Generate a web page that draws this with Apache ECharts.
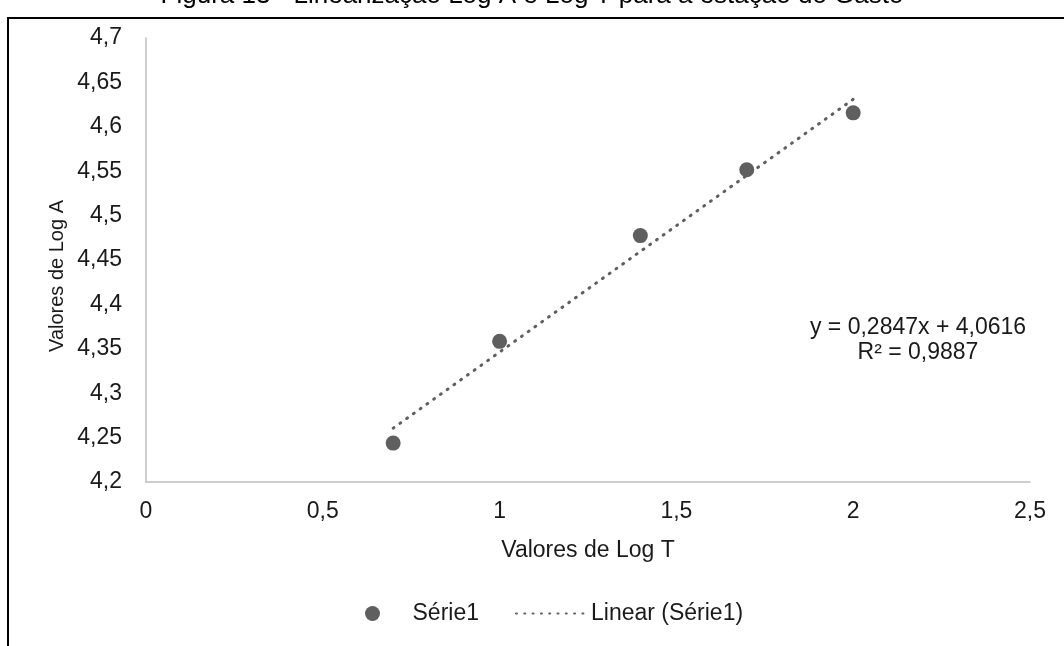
<!DOCTYPE html>
<html>
<head>
<meta charset="utf-8">
<script src="https://cdn.jsdelivr.net/npm/echarts@6/dist/echarts.min.js"></script>
<style>
html,body{margin:0;padding:0;background:#fff;}
#chart{width:1064px;height:646px;}
</style>
</head>
<body>
<div id="chart"></div>
<script>
const titleText = 'Figura 13 - Linearização Log A e Log T para a estação do Gasto';
const seriesName = 'Série1';
const trendName = 'Linear (Série1)';
const logT = [0.699, 1.0, 1.398, 1.699, 2.0];
const logA = [4.2438, 4.3584, 4.4775, 4.5517, 4.6157];
const slope = 0.2847;
const intercept = 4.0616;
const equationLabel = 'y = 0,2847x + 4,0616';
const r2Label = 'R² = 0,9887';
const xAxisName = 'Valores de Log T';
const yAxisName = 'Valores de Log A';

const points = logT.map((x, i) => [x, logA[i]]);
const trendX = [logT[0], logT[logT.length - 1]];
const trend = trendX.map(x => [x, slope * x + intercept]);
const fmt = v => String(Math.round(v * 1000) / 1000).replace('.', ',');

const chart = echarts.init(document.getElementById('chart'));
const font = '"Liberation Sans", Arial, sans-serif';
const txt = '#1a1a1a';
const grey = '#5f5f5f';
chart.setOption({
  animation: false,
  textStyle: { fontFamily: font },
  grid: { left: 146, right: 34, top: 38, bottom: 164 },
  xAxis: {
    type: 'value', min: 0, max: 2.5, interval: 0.5,
    name: xAxisName, nameLocation: 'middle', nameGap: 57,
    nameTextStyle: { fontSize: 23, color: txt, fontFamily: font },
    axisLine: { show: true, onZero: false, lineStyle: { color: '#bfbfbf', width: 1.5 } },
    axisTick: { show: false },
    splitLine: { show: false },
    axisLabel: { fontSize: 23, color: txt, margin: 18, formatter: fmt, fontFamily: font }
  },
  yAxis: {
    type: 'value', min: 4.2, max: 4.7, interval: 0.05,
    axisLine: { show: true, onZero: false, lineStyle: { color: '#bfbfbf', width: 1.5 } },
    axisTick: { show: false },
    splitLine: { show: false },
    axisLabel: { fontSize: 23, color: txt, margin: 24, formatter: fmt, fontFamily: font }
  },
  legend: {
    top: 597, left: 360, itemGap: 36, itemWidth: 70, itemHeight: 15,
    textStyle: { fontSize: 23, color: txt, fontFamily: font },
    data: [
      { name: seriesName, icon: 'circle', itemStyle: { color: grey } },
      { name: trendName, itemStyle: { opacity: 0 } }
    ]
  },
  graphic: [
    { type: 'rect', shape: { x: 8, y: 18, width: 1200, height: 800 }, style: { fill: 'none', stroke: '#000', lineWidth: 2 }, silent: true },
    { type: 'text', x: 532, y: -4, style: { text: titleText, fontSize: 26, fontFamily: font, fill: '#000', align: 'center', verticalAlign: 'middle' } },
    { type: 'text', x: 57, y: 276, rotation: Math.PI / 2, style: { text: yAxisName, fontSize: 20, fontFamily: font, fill: txt, align: 'center', verticalAlign: 'middle' } },
    { type: 'text', x: 918, y: 328, style: { text: equationLabel, fontSize: 23, fontFamily: font, fill: txt, align: 'center', verticalAlign: 'middle' } },
    { type: 'text', x: 918, y: 353, style: { text: r2Label, fontSize: 23, fontFamily: font, fill: txt, align: 'center', verticalAlign: 'middle' } }
  ],
  series: [
    {
      name: trendName, type: 'line', data: trend, symbol: 'none',
      lineStyle: { color: grey, width: 3, type: [1, 7.3], cap: 'round' },
      itemStyle: { color: grey }, z: 2
    },
    {
      name: seriesName, type: 'scatter', data: points, symbol: 'circle', symbolSize: 15,
      itemStyle: { color: grey, opacity: 1 }, z: 3
    }
  ]
});
</script>
</body>
</html>
